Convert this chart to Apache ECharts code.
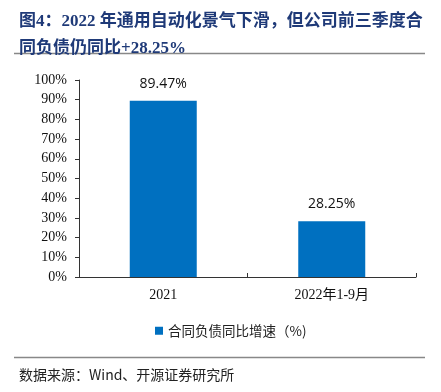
<!DOCTYPE html>
<html>
<head>
<meta charset="utf-8">
<script src="https://cdn.jsdelivr.net/npm/echarts@6/dist/echarts.min.js"></script>
<style>
  html, body { margin: 0; padding: 0; background: #fff; }
  #chart { width: 441px; height: 392px; }
</style>
</head>
<body>
<div id="chart"></div>
<script>
var categories = ['2021', '2022年1-9月'];
var growth = [89.47, 28.25];
var yTicks = [0, 10, 20, 30, 40, 50, 60, 70, 80, 90, 100];

var serif = '"Liberation Serif", "Times New Roman", "Noto Sans CJK SC", serif';
var cjk = '"Noto Sans CJK SC", sans-serif';

var myChart = echarts.init(document.getElementById('chart'));
var option = {
    animation: false,
    title: [
        {
            text: '图4：2022 年通用自动化景气下滑，但公司前三季度合\n同负债仍同比+28.25%',
            left: 14,
            top: 3,
            textStyle: {
                color: '#1F3A78',
                fontSize: 17,
                fontWeight: 'bold',
                fontFamily: serif,
                lineHeight: 27
            }
        },
        {
            text: '数据来源：Wind、开源证券研究所',
            left: 14,
            top: 363,
            textStyle: {
                color: '#222',
                fontSize: 14,
                fontWeight: 'normal',
                fontFamily: cjk
            }
        }
    ],
    graphic: [
        { type: 'line', shape: { x1: 14, y1: 53.5, x2: 425, y2: 53.5 }, style: { stroke: '#888', lineWidth: 1.5 } },
        { type: 'line', shape: { x1: 14, y1: 357.5, x2: 425, y2: 357.5 }, style: { stroke: '#888', lineWidth: 1.5 } }
    ],
    legend: {
        data: ['合同负债同比增速（%)'],
        top: 319,
        left: 150,
        itemWidth: 8,
        itemHeight: 8,
        icon: 'rect',
        itemGap: 4,
        textStyle: { fontSize: 13.5, fontFamily: cjk, color: '#222' }
    },
    grid: { left: 79, right: 25, top: 80, bottom: 115 },
    xAxis: {
        type: 'category',
        data: categories,
        axisLine: { lineStyle: { color: '#333', width: 1 } },
        axisTick: { show: true, inside: true, length: 4, lineStyle: { color: '#333' } },
        axisLabel: { fontSize: 14, fontFamily: serif, color: '#111', margin: 11 }
    },
    yAxis: {
        type: 'value',
        min: 0,
        max: 100,
        interval: 10,
        splitLine: { show: false },
        axisLine: { show: true, lineStyle: { color: '#333', width: 1 } },
        axisTick: { show: true, length: 4, lineStyle: { color: '#333' } },
        axisLabel: {
            fontSize: 14,
            fontFamily: serif,
            color: '#111',
            margin: 12,
            formatter: function (v) { return yTicks.indexOf(v) >= 0 ? v + '%' : ''; }
        }
    },
    series: [
        {
            name: '合同负债同比增速（%)',
            type: 'bar',
            data: growth,
            barWidth: 67,
            itemStyle: { color: '#0070C0' },
            label: {
                show: true,
                position: 'top',
                distance: 10,
                fontSize: 14,
                fontFamily: '"Open Sans", "Noto Sans", sans-serif',
                color: '#111',
                formatter: function (p) { return p.value.toFixed(2) + '%'; }
            }
        }
    ]
};
myChart.setOption(option);
window.addEventListener('resize', function () {
    myChart.resize();
});
</script>
</body>
</html>
